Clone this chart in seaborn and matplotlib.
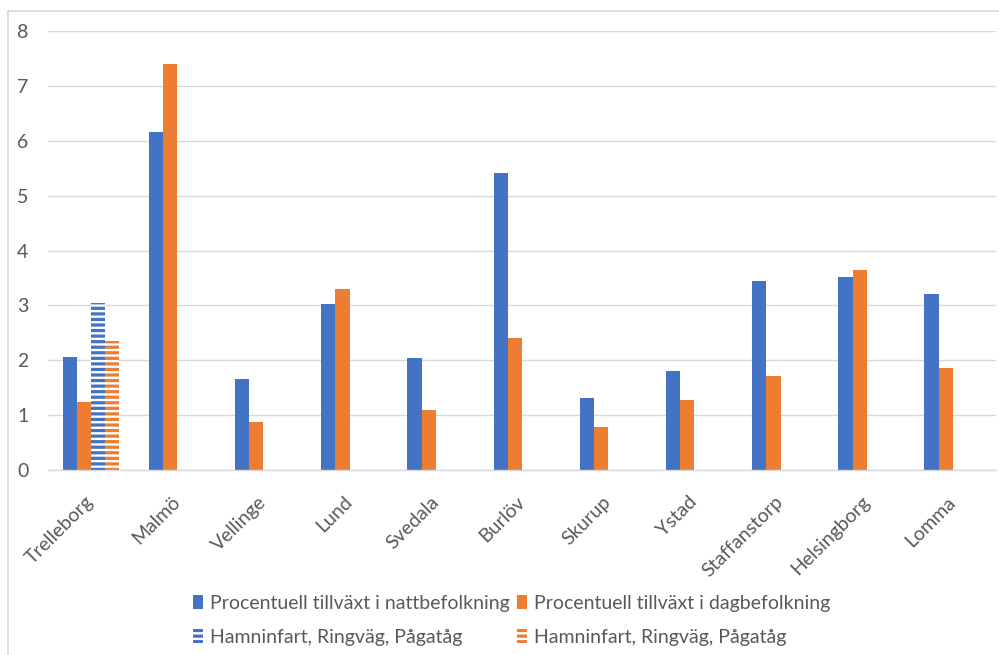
import numpy as np
import pandas as pd
import matplotlib
matplotlib.use("Agg")
import matplotlib.pyplot as plt
from matplotlib.patches import Patch
from matplotlib.lines import Line2D
import seaborn as sns

## Data
kommuner = ['Trelleborg', 'Malmö', 'Vellinge', 'Lund', 'Svedala', 'Burlöv',
            'Skurup', 'Ystad', 'Staffanstorp', 'Helsingborg', 'Lomma']
natt     = [2.06, 6.16, 1.65, 3.02, 2.04, 5.42, 1.31, 1.80, 3.45, 3.51, 3.21]
dag      = [1.24, 7.39, 0.87, 3.29, 1.09, 2.40, 0.78, 1.27, 1.71, 3.65, 1.85]
ham_natt = [3.05] + [np.nan] * 10
ham_dag  = [2.36] + [np.nan] * 10

series = ['Procentuell tillväxt i nattbefolkning',
          'Procentuell tillväxt i dagbefolkning',
          'Hamninfart, Ringväg, Pågatåg (natt)',
          'Hamninfart, Ringväg, Pågatåg (dag)']
ham_label = 'Hamninfart, Ringväg, Pågatåg'
blue   = '#4472C4'
orange = '#ED7D31'
grey   = '#595959'

## Long table for seaborn
rows = []
for name, vals in zip(series, [natt, dag, ham_natt, ham_dag]):
    for k, v in zip(kommuner, vals):
        rows.append({'kommun': k, 'serie': name, 'varde': v})
df = pd.DataFrame(rows).dropna()

sns.set_style('white')
plt.rcParams['font.family'] = ['Lato', 'DejaVu Sans']
plt.rcParams['hatch.linewidth'] = 2.3

fig = plt.figure(figsize=(9.99, 6.55), dpi=100)
ax = fig.add_axes([0.048, 0.2824, 0.949, 0.6703])

sns.barplot(data=df, x='kommun', y='varde', hue='serie', order=kommuner,
            hue_order=series, palette=[blue, orange, blue, orange], saturation=1,
            width=0.66, errorbar=None, linewidth=0, legend=False, ax=ax)

## Striped bars for the harbour scenario
for cont, col in zip(ax.containers[2:4], [blue, orange]):
    for bar in cont:
        bar.set_facecolor('white')
        bar.set_edgecolor(col)
        bar.set_linewidth(0)
        bar.set_hatch('---')

## Axes customization
ax.set_ylim(0, 8)
ax.set_xlim(-0.5, len(kommuner) - 0.5)
ax.set_yticks(range(0, 9))
ax.yaxis.grid(True, color='#D9D9D9', linewidth=1.0)
ax.set_axisbelow(True)
for s in ['top', 'right', 'left']:
    ax.spines[s].set_visible(False)
ax.spines['bottom'].set_color('#D9D9D9')
ax.spines['bottom'].set_linewidth(1.0)
ax.set_xlabel('')
ax.set_ylabel('')
ax.tick_params(axis='y', length=0, pad=14, labelsize=14, labelcolor=grey)
ax.tick_params(axis='x', length=0, pad=21, labelsize=14, labelcolor=grey)
for lab in ax.get_xticklabels():
    lab.set_rotation(45)
    lab.set_ha('right')
    lab.set_va('center')
    lab.set_rotation_mode('anchor')

## Legend
handles = [Patch(facecolor=blue, edgecolor='none', label=series[0]),
           Patch(facecolor='white', edgecolor=blue, hatch='---', linewidth=0, label=ham_label),
           Patch(facecolor=orange, edgecolor='none', label=series[1]),
           Patch(facecolor='white', edgecolor=orange, hatch='---', linewidth=0, label=ham_label)]
leg = fig.legend(handles=handles, ncol=2, loc='center', bbox_to_anchor=(0.512, 0.053),
                 frameon=False, fontsize=14, handlelength=0.55, handleheight=0.7,
                 handletextpad=0.35, columnspacing=0.35, labelspacing=0.85)
for t in leg.get_texts():
    t.set_color(grey)

## Chart frame (cut at right and bottom)
fig.add_artist(Line2D([8 / 999, 1.0], [1 - 11 / 655] * 2, color='#D9D9D9', linewidth=1.2))
fig.add_artist(Line2D([8 / 999] * 2, [0.0, 1 - 11 / 655], color='#D9D9D9', linewidth=1.2))

fig.savefig('out.png', dpi=100)
